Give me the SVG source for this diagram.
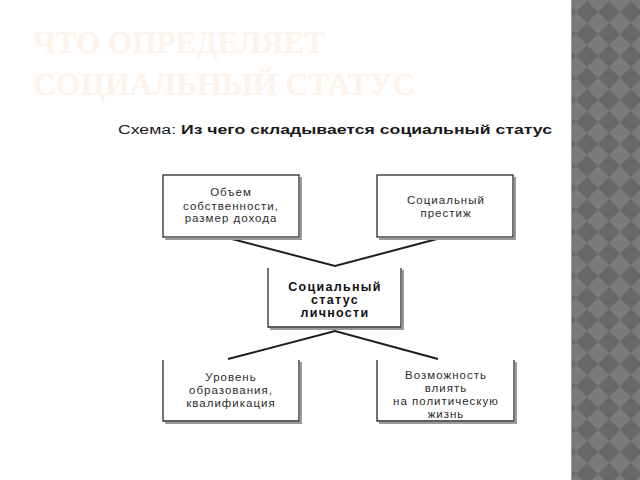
<svg xmlns="http://www.w3.org/2000/svg" width="640" height="480" viewBox="0 0 640 480">
<defs>
<pattern id="diam" x="576" y="1" width="22" height="22" patternUnits="userSpaceOnUse">
<rect width="22" height="22" fill="#7a7a7a"/>
<polygon points="11,0 22,11 11,22 0,11" fill="#686868"/>
</pattern>
</defs>
<style>
.box{fill:#fff;stroke:#2a2a2a;stroke-width:1.3}
.open{fill:#fff;stroke:#2a2a2a;stroke-width:1.3}
.shadow{fill:none;stroke:#9a9a9a;stroke-width:2}
.t{font-family:"Liberation Sans",Arial,sans-serif;font-size:11.5px;fill:#2b2b2b;text-anchor:middle;letter-spacing:1px}
.b{font-family:"Liberation Sans",Arial,sans-serif;font-size:12.5px;font-weight:bold;fill:#111;text-anchor:middle;letter-spacing:1.3px}
.title{font-family:"Liberation Serif","Times New Roman",serif;font-size:31px;font-weight:bold;fill:#fdf3ea}
.cap{font-family:"Liberation Sans",Arial,sans-serif;font-size:12.5px;fill:#1a1a1a}
.conn{fill:none;stroke:#1e1e1e;stroke-width:2}
</style>
<rect width="640" height="480" fill="#ffffff"/>
<rect x="571" y="0" width="69" height="480" fill="url(#diam)"/>
<line x1="571.5" y1="0" x2="571.5" y2="480" stroke="#9c9c9c" stroke-width="1"/>
<g id="title">
<text class="title" x="33" y="53" textLength="292" lengthAdjust="spacingAndGlyphs">ЧТО ОПРЕДЕЛЯЕТ</text>
<text class="title" x="33" y="95" textLength="382" lengthAdjust="spacingAndGlyphs">СОЦИАЛЬНЫЙ СТАТУС</text>
</g>
<g id="caption">
<text class="cap" x="118" y="134" textLength="434" lengthAdjust="spacingAndGlyphs">Схема: <tspan font-weight="bold">Из чего складывается социальный статус</tspan></text>
</g>
<g id="connectors">
<polyline class="conn" points="232,239 335,266 437,239"/>
<polyline class="conn" points="228,359 335,331 438,359"/>
</g>
<g id="n1">
<polyline class="shadow" points="301,177 301,239 165,239"/>
<rect class="box" x="163" y="175" width="136" height="62"/>
<text class="t" x="231" y="196">Объем</text>
<text class="t" x="231" y="210">собственности,</text>
<text class="t" x="231" y="222">размер дохода</text>
</g>
<g id="n2">
<polyline class="shadow" points="515,177 515,239 379,239"/>
<rect class="box" x="377" y="175" width="136" height="62"/>
<text class="t" x="446" y="204">Социальный</text>
<text class="t" x="446" y="217">престиж</text>
</g>
<g id="n3">
<polyline class="shadow" points="403,270 403,329 270,329"/>
<path class="open" d="M268,268 V327 H401 V268"/>
<text class="b" x="335" y="291">Социальный</text>
<text class="b" x="335" y="304">статус</text>
<text class="b" x="335" y="317">личности</text>
</g>
<g id="n4">
<polyline class="shadow" points="301,362 301,423 165,423"/>
<path class="open" d="M163,360 V421 H299 V360"/>
<text class="t" x="231" y="381">Уровень</text>
<text class="t" x="231" y="394">образования,</text>
<text class="t" x="231" y="407">квалификация</text>
</g>
<g id="n5">
<polyline class="shadow" points="516,362 516,423 379,423"/>
<path class="open" d="M377,360 V421 H514 V360"/>
<text class="t" x="446" y="379">Возможность</text>
<text class="t" x="446" y="392">влиять</text>
<text class="t" x="446" y="405">на политическую</text>
<text class="t" x="446" y="418">жизнь</text>
</g>
</svg>
